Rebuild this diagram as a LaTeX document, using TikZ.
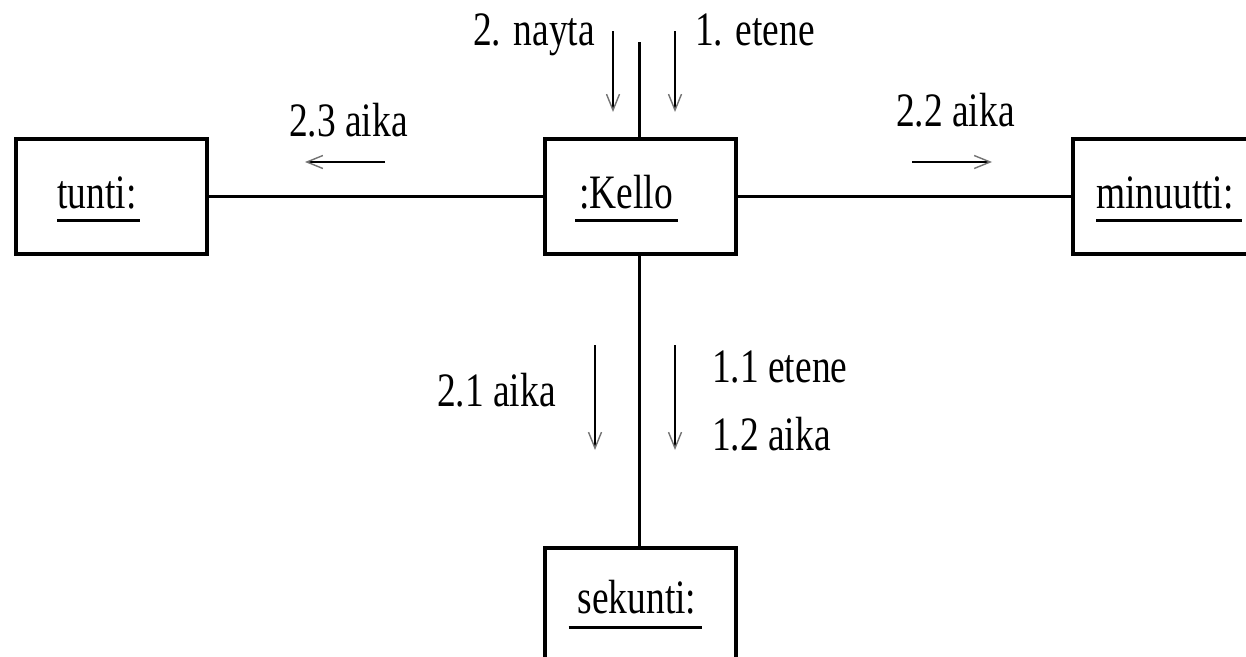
\documentclass[tikz,border=0pt]{standalone}
\usepackage{fontspec}
\setmainfont{Liberation Serif}[FakeStretch=0.78]
\usetikzlibrary{arrows.meta}
\begin{document}
\begin{tikzpicture}[x=1pt,y=-1pt,
  obj/.style={draw,line width=4pt,minimum width=191pt,minimum height=115pt,inner sep=0pt},
  objtxt/.style={anchor=base,inner sep=0pt,font=\fontsize{48}{56}\selectfont},
  lbl/.style={anchor=base west,inner sep=0pt,font=\fontsize{48}{56}\selectfont},
  link/.style={line width=3pt},
  uline/.style={line width=3pt},
  msg/.style={line width=2pt,-{Straight Barb[color=black!55,length=16pt,width=13pt,line width=1.4pt]}}]
\path[use as bounding box] (0,0) rectangle (1246,656);
\clip (0,0) rectangle (1246,656);
% objects
\node[obj] (tunti) at (111.5,196.5) {};
\node[obj] (kello) at (640.5,196.5) {};
\node[obj] (minuutti) at (1168,196.5) {};
\node[obj] (sekunti) at (640.5,605) {};
% object names
\node[objtxt] (tuntit) at (97,208) {tunti:};
\node[objtxt] (kellot) at (626,208) {:Kello};
\node[objtxt] (minuuttit) at (1165,208) {minuutti:};
\node[objtxt] (sekuntit) at (637,613) {sekunti:};
\draw[uline] ([yshift=-12pt]tuntit.base west) -- ([yshift=-12pt,xshift=3pt]tuntit.base east);
\draw[uline] ([yshift=-12pt,xshift=-4pt]kellot.base west) -- ([yshift=-12pt,xshift=5pt]kellot.base east);
\draw[uline] ([yshift=-12pt]minuuttit.base west) -- ([yshift=-12pt,xshift=8pt]minuuttit.base east);
\draw[uline] ([yshift=-14pt,xshift=-9pt]sekuntit.base west) -- ([yshift=-14pt,xshift=6pt]sekuntit.base east);
% links
\coordinate (top) at (639,42);
\draw[link] (tunti.east) -- (kello.west);
\draw[link] (kello.east) -- (minuutti.west);
\draw[link] (kello.north -| top) -- (top);
\draw[link] (kello.south -| top) -- (sekunti.north -| top);
% message arrows
\coordinate (a1s) at (613,31); \coordinate (a1e) at (613,112);
\coordinate (a2s) at (675,31); \coordinate (a2e) at (675,112);
\draw[msg] (a1s) -- (a1e);
\draw[msg] (a2s) -- (a2e);
\coordinate (a3s) at (385,162); \coordinate (a3e) at (305,162);
\draw[msg] (a3s) -- (a3e);
\coordinate (a4s) at (912,162); \coordinate (a4e) at (992,162);
\draw[msg] (a4s) -- (a4e);
\coordinate (a5s) at (595,345); \coordinate (a5e) at (595,450);
\coordinate (a6s) at (675,345); \coordinate (a6e) at (675,450);
\draw[msg] (a5s) -- (a5e);
\draw[msg] (a6s) -- (a6e);
% message labels
\node[lbl] (l1) at (473,45) {2. nayta};
\node[lbl] (l2) at (695,45) {1. etene};
\node[lbl] (l3) at (289,136) {2.3 aika};
\node[lbl] (l4) at (896,126) {2.2 aika};
\node[lbl] (l5) at (437,406) {2.1 aika};
\node[lbl] (l6) at (712,382) {1.1 etene};
\node[lbl] (l7) at (712,450) {1.2 aika};
\end{tikzpicture}
\end{document}
